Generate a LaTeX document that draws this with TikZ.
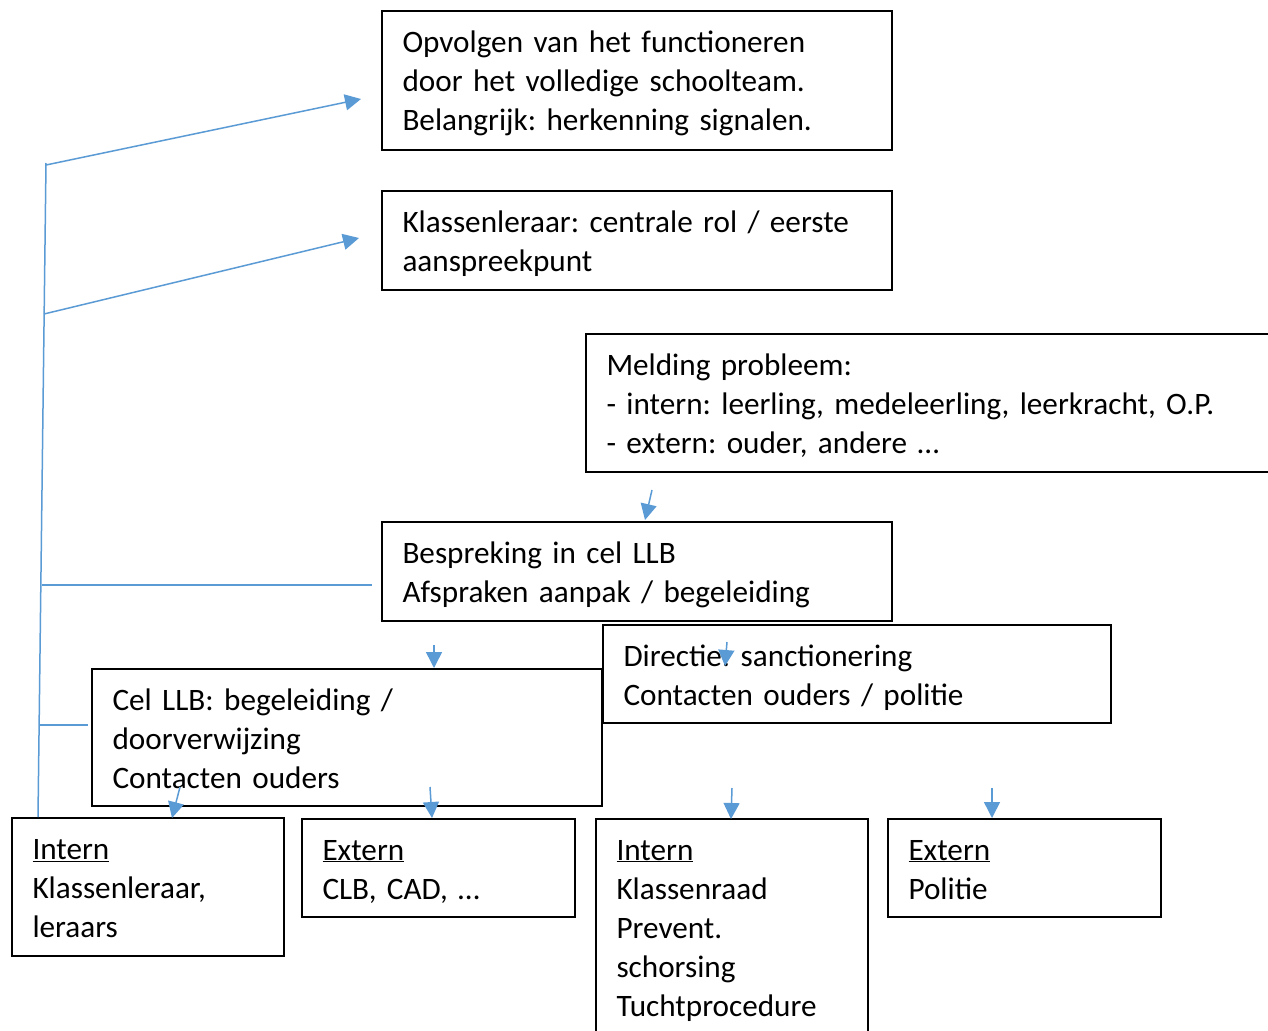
\documentclass[tikz,border=0pt]{standalone}
\usepackage{fontspec}
\setmainfont{Carlito}
\usetikzlibrary{arrows.meta}
\definecolor{myblue}{RGB}{91,155,213}
\frenchspacing
\begin{document}
\begin{tikzpicture}[x=1pt,y=-1pt,
  box/.style={draw=black,line width=2pt,fill=white,anchor=north west,align=left,
    inner xsep=20.5pt,inner ysep=0pt,font=\fontsize{31.2}{39}\selectfont,
    execute at begin node={\rule{0pt}{41pt}},
    execute at end node={\rule[-18pt]{0pt}{18pt}}},
  conn/.style={draw=myblue,line width=1.5pt},
  arr/.style={conn,-{Triangle[length=16pt,width=16pt]}}]
\clip (0,0) rectangle (1268,1030);
\fill[white] (0,0) rectangle (1268,1030);

% boxes
\node[box,text width=469pt,minimum height=139pt] (opv) at (381,10)
  {Opvolgen van het functioneren\\door het volledige schoolteam.\\Belangrijk: herkenning signalen.};
\node[box,text width=469pt,minimum height=99pt] (kl) at (381,190)
  {Klassenleraar: centrale rol / eerste\\aanspreekpunt};
\node[box,text width=664pt,minimum height=138pt] (meld) at (585,333)
  {Melding probleem:\\- intern: leerling, medeleerling, leerkracht, O.P.\\- extern: ouder, andere \dots};
\node[box,text width=469pt,minimum height=99pt] (bespr) at (381,521)
  {Bespreking in cel LLB\\Afspraken aanpak / begeleiding};
\node[box,text width=467pt,minimum height=98pt] (dir) at (602,624)
  {Directie: sanctionering\\Contacten ouders / politie};
\node[box,text width=469pt,minimum height=137pt] (cel) at (91,668)
  {Cel LLB: begeleiding /\\doorverwijzing\\Contacten ouders};
\node[box,text width=231pt,minimum height=138pt] (int1) at (11,817)
  {\underline{Intern}\\Klassenleraar,\\leraars};
\node[box,text width=232pt,minimum height=98pt] (ext1) at (301,818)
  {\underline{Extern}\\CLB, CAD, \dots};
\node[box,text width=231pt,minimum height=212pt] (int2) at (595,818)
  {\underline{Intern}\\Klassenraad\\Prevent.\\schorsing\\Tuchtprocedure};
\node[box,text width=232pt,minimum height=98pt] (ext2) at (887,818)
  {\underline{Extern}\\Politie};

% left spine
\coordinate (sTop) at (46,163);
\coordinate (sBot) at (38,817);
\coordinate (s1) at (46,165);
\coordinate (s2) at (44,314);
\coordinate (s3) at (42,585);
\coordinate (s4) at (40,725);
\coordinate (e1) at (361,99);
\coordinate (e2) at (359,238);
\coordinate (e3) at (372,585);
\coordinate (e4) at (88,725);
\draw[conn] (sTop) -- (sBot);
\draw[arr] (s1) -- (e1);
\draw[arr] (s2) -- (e2);
\draw[conn] (s3) -- (e3);
\draw[conn] (s4) -- (e4);

% down arrows
\coordinate (m1) at (652,490);
\draw[arr] (m1) -- (645,520);
\coordinate (b1) at (434,645);
\draw[arr] (b1) -- (b1 |- cel.north);
\coordinate (b2) at (727,642);
\draw[arr] (b2) -- (725,666);
\coordinate (c1) at (180,787);
\draw[arr] (c1) -- (172,818);
\coordinate (c2) at (430,787);
\draw[arr] (c2) -- (432,818);
\coordinate (d1) at (732,788);
\draw[arr] (d1) -- (731,819);
\coordinate (d2) at (992,788);
\draw[arr] (d2) -- (d2 |- ext2.north);
\end{tikzpicture}
\end{document}
